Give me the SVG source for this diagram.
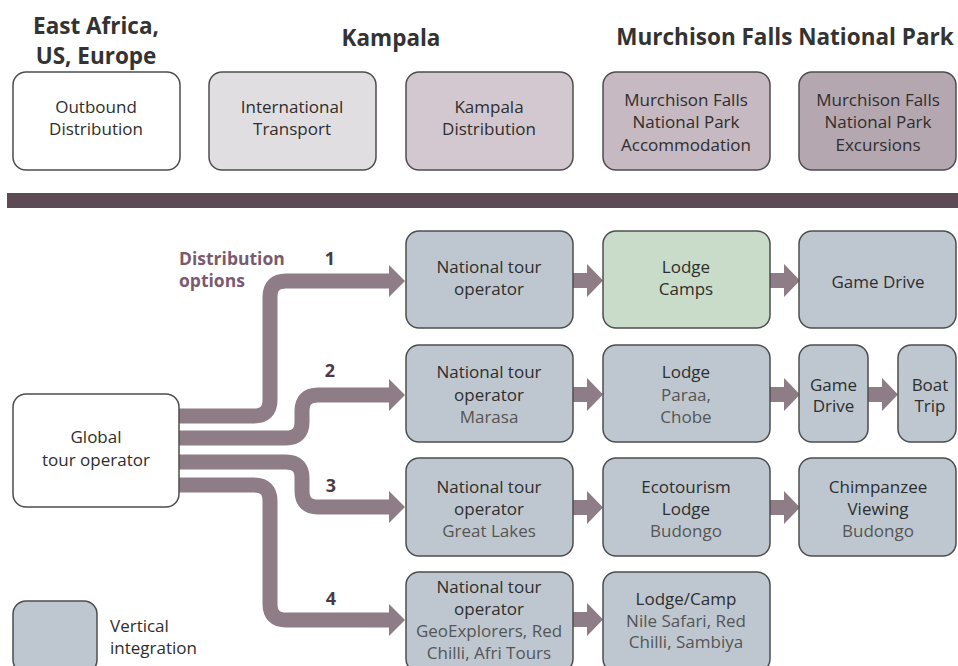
<svg xmlns="http://www.w3.org/2000/svg" width="958" height="666" viewBox="0 0 958 666">
<style>
.box{stroke:#4d4d4d;stroke-width:1.5}
.w{fill:#ffffff}
.g{fill:#bec7cf}
.gr{fill:#c8dcc9}
.t{font-family:"Open Sans","Noto Sans",sans-serif;font-size:17px;fill:#2e2e2e;text-anchor:middle}
.s{font-family:"Open Sans","Noto Sans",sans-serif;font-size:17px;fill:#555;text-anchor:middle}
.h{font-family:"Open Sans","Noto Sans",sans-serif;font-size:22.5px;font-weight:bold;fill:#333;text-anchor:middle}
.n{font-family:"Open Sans","Noto Sans",sans-serif;font-size:18px;font-weight:bold;fill:#4a3a44;text-anchor:middle}
.lab{font-family:"Open Sans","Noto Sans",sans-serif;font-size:17.5px;font-weight:bold;fill:#7a5a6e}
.lg{font-family:"Open Sans","Noto Sans",sans-serif;font-size:17px;fill:#2e2e2e}
.big{fill:none;stroke:#8e7c87;stroke-width:15}
.ah{fill:#8e7c87}
</style>
<rect width="958" height="666" fill="#ffffff"/>
<g id="headings">
<text class="h" x="96" y="34">East Africa,</text>
<text class="h" x="96" y="64">US, Europe</text>
<text class="h" x="391" y="46">Kampala</text>
<text class="h" x="785" y="45">Murchison Falls National Park</text>
</g>
<g id="outbound"><rect class="box w" x="13" y="72" width="167" height="98" rx="13"/><text class="t" x="96" y="113">Outbound</text><text class="t" x="96" y="135">Distribution</text></g>
<g id="intl"><rect class="box" fill="#e0dee1" x="209" y="72" width="167" height="98" rx="13"/><text class="t" x="292" y="113">International</text><text class="t" x="292" y="135">Transport</text></g>
<g id="kampala"><rect class="box" fill="#d3c8cf" x="406" y="72" width="167" height="98" rx="13"/><text class="t" x="489" y="113">Kampala</text><text class="t" x="489" y="135">Distribution</text></g>
<g id="accom"><rect class="box" fill="#c6b9c1" x="603" y="72" width="167" height="98" rx="13"/><text class="t" x="686" y="106">Murchison Falls</text><text class="t" x="686" y="128">National Park</text><text class="t" x="686" y="151">Accommodation</text></g>
<g id="excursions"><rect class="box" fill="#b5a7b0" x="799" y="72" width="157" height="98" rx="13"/><text class="t" x="878" y="106">Murchison Falls</text><text class="t" x="878" y="128">National Park</text><text class="t" x="878" y="151">Excursions</text></g>
<rect id="bar" x="7" y="193" width="951" height="15" fill="#5c4a55"/>
<g id="connectors">
<path class="big" d="M179,416 H254 Q270,416 270,400 V297 Q270,281 286,281 H390"/>
<polygon class="ah" points="389,265 405,281 389,297"/>
<path class="big" d="M179,438 H286 Q302,438 302,422 V411 Q302,395 318,395 H390"/>
<polygon class="ah" points="389,379 405,395 389,411"/>
<path class="big" d="M179,462 H286 Q302,462 302,478 V491 Q302,507 318,507 H390"/>
<polygon class="ah" points="389,491 405,507 389,523"/>
<path class="big" d="M179,485 H254 Q270,485 270,501 V604 Q270,620 286,620 H390"/>
<polygon class="ah" points="389,604 405,620 389,636"/>
<g class="ah">
<rect x="572" y="273" width="17" height="15"/><polygon points="587,264 603,280.5 587,297"/>
<rect x="769" y="273" width="17" height="15"/><polygon points="784,264 800,280.5 784,297"/>
<rect x="572" y="387" width="17" height="15"/><polygon points="587,378 603,394.5 587,411"/>
<rect x="769" y="387" width="17" height="15"/><polygon points="784,378 800,394.5 784,411"/>
<rect x="867" y="387" width="17" height="15"/><polygon points="882,378 898,394.5 882,411"/>
<rect x="572" y="500" width="17" height="15"/><polygon points="587,491 603,507.5 587,524"/>
<rect x="769" y="500" width="17" height="15"/><polygon points="784,491 800,507.5 784,524"/>
<rect x="572" y="612" width="17" height="15"/><polygon points="587,603 603,619.5 587,636"/>
</g>
</g>
<g id="labels">
<text class="lab" x="179" y="265">Distribution</text>
<text class="lab" x="179" y="287">options</text>
<text class="n" x="330" y="265">1</text>
<text class="n" x="330" y="377">2</text>
<text class="n" x="331" y="492">3</text>
<text class="n" x="331" y="605">4</text>
</g>
<g id="global"><rect class="box w" x="13" y="394" width="166" height="113" rx="13"/><text class="t" x="96" y="443">Global</text><text class="t" x="96" y="466">tour operator</text></g>
<g id="nto1"><rect class="box g" x="406" y="231" width="167" height="97" rx="13"/><text class="t" x="489" y="273">National tour</text><text class="t" x="489" y="295">operator</text></g>
<g id="lodge1"><rect class="box gr" x="603" y="231" width="167" height="97" rx="13"/><text class="t" x="686" y="273">Lodge</text><text class="t" x="686" y="295">Camps</text></g>
<g id="game1"><rect class="box g" x="799" y="231" width="157" height="97" rx="13"/><text class="t" x="878" y="288">Game Drive</text></g>
<g id="nto2"><rect class="box g" x="406" y="345" width="167" height="97" rx="13"/><text class="t" x="489" y="378">National tour</text><text class="t" x="489" y="401">operator</text><text class="s" x="489" y="423">Marasa</text></g>
<g id="lodge2"><rect class="box g" x="603" y="345" width="167" height="97" rx="13"/><text class="t" x="686" y="378">Lodge</text><text class="s" x="686" y="401">Paraa,</text><text class="s" x="686" y="423">Chobe</text></g>
<g id="game2"><rect class="box g" x="799" y="345" width="69" height="97" rx="13"/><text class="t" x="833.5" y="391">Game</text><text class="t" x="833.5" y="412">Drive</text></g>
<g id="boat2"><rect class="box g" x="898" y="345" width="58" height="97" rx="13"/><text class="t" x="930" y="391">Boat</text><text class="t" x="930" y="412">Trip</text></g>
<g id="nto3"><rect class="box g" x="406" y="458" width="167" height="98" rx="13"/><text class="t" x="489" y="493">National tour</text><text class="t" x="489" y="515">operator</text><text class="s" x="489" y="537">Great Lakes</text></g>
<g id="lodge3"><rect class="box g" x="603" y="458" width="167" height="98" rx="13"/><text class="t" x="686" y="493">Ecotourism</text><text class="t" x="686" y="515">Lodge</text><text class="s" x="686" y="537">Budongo</text></g>
<g id="chimp3"><rect class="box g" x="799" y="458" width="157" height="98" rx="13"/><text class="t" x="878" y="493">Chimpanzee</text><text class="t" x="878" y="515">Viewing</text><text class="s" x="878" y="537">Budongo</text></g>
<g id="nto4"><rect class="box g" x="406" y="572" width="167" height="100" rx="13"/><text class="t" x="489" y="593">National tour</text><text class="t" x="489" y="615">operator</text><text class="s" x="489" y="637">GeoExplorers, Red</text><text class="s" x="489" y="659">Chilli, Afri Tours</text></g>
<g id="lodge4"><rect class="box g" x="603" y="572" width="167" height="100" rx="13"/><text class="t" x="686" y="605">Lodge/Camp</text><text class="s" x="686" y="627">Nile Safari, Red</text><text class="s" x="686" y="648">Chilli, Sambiya</text></g>
<g id="legend"><rect class="box g" x="13" y="601" width="84" height="72" rx="13"/><text class="lg" x="110" y="632">Vertical</text><text class="lg" x="110" y="654">integration</text></g>
</svg>
